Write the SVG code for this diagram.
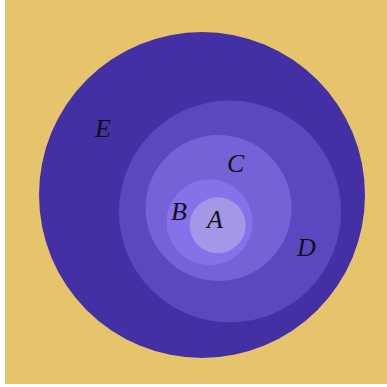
<svg xmlns="http://www.w3.org/2000/svg" width="387" height="387" viewBox="0 0 387 387">
<style>
text{font-family:"Liberation Serif","Times New Roman",serif;font-style:italic;font-size:26px;fill:#111}
</style>
<rect x="0" y="0" width="387" height="387" fill="#ffffff"/>
<rect x="5" y="0" width="382" height="384" fill="#E6C46C"/>
<g id="E"><circle cx="202" cy="195" r="163" fill="#4330A4"/><text x="95" y="137">E</text></g>
<g id="D"><circle cx="230" cy="211.5" r="111" fill="#5B48C0"/><text x="297" y="256">D</text></g>
<g id="C"><circle cx="218.5" cy="208" r="73" fill="#7462D6"/><text x="227" y="172">C</text></g>
<g id="B"><circle cx="209.5" cy="222.3" r="43" fill="#8671EA"/><text x="171" y="220">B</text></g>
<g id="A"><circle cx="217.7" cy="225.3" r="28" fill="#A497E8"/><text x="207" y="228">A</text></g>
<g id="connectors"/>
</svg>
